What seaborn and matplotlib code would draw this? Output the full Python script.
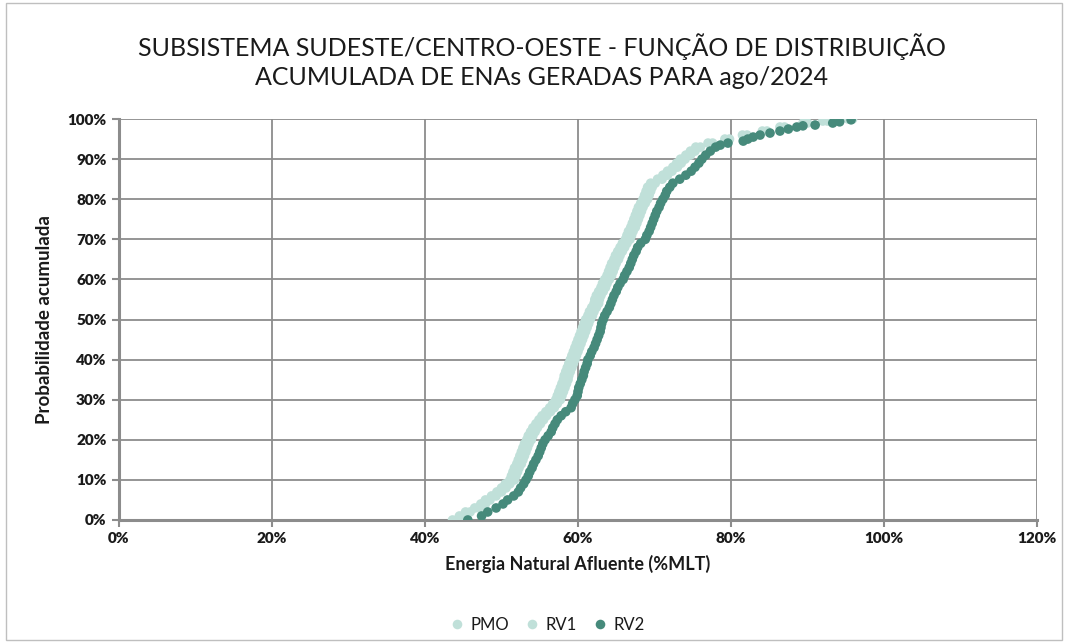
import matplotlib
matplotlib.use("Agg")
import matplotlib.pyplot as plt
import seaborn as sns
import pandas as pd
from matplotlib.ticker import FuncFormatter
from matplotlib.patches import Rectangle

# ---------------- data ----------------
series_names = ["PMO", "RV1", "RV2"]

prob_light = [0, 1, 2, 3, 4, 5, 6, 7, 8, 9, 10, 11, 12, 13, 14, 15, 16, 17, 18, 19,
              20, 21, 22, 23, 24, 25, 26, 27, 28, 29, 30, 31, 32, 33, 34, 35, 36, 37, 38, 39,
              40, 41, 42, 43, 44, 45, 46, 47, 48, 49, 50, 51, 52, 53, 54, 55, 56, 57, 58, 59,
              60, 61, 62, 63, 64, 65, 66, 67, 68, 69, 70, 71, 72, 73, 74, 75, 76, 77, 78, 79,
              80, 81, 82, 83, 84, 85, 86, 87, 88, 89, 90, 91, 92, 93, 94, 95, 96, 97, 98, 99,
              99.5, 100]

ena_pmo = [43.6, 44.5, 45.3, 46.5, 47.3, 47.9, 48.7, 49.4, 50.0, 50.5, 51.1, 51.3, 51.5, 51.7, 52.0, 52.2, 52.4, 52.6, 52.8, 53.0,
           53.3, 53.5, 53.8, 54.1, 54.5, 54.9, 55.3, 55.8, 56.3, 56.7, 57.1, 57.3, 57.5, 57.7, 57.9, 58.1, 58.2, 58.4, 58.6, 58.8,
           59.0, 59.2, 59.4, 59.6, 59.8, 60.0, 60.2, 60.4, 60.6, 60.8, 61.0, 61.3, 61.5, 61.8, 62.1, 62.2, 62.4, 62.7, 63.0, 63.2,
           63.5, 63.8, 64.0, 64.2, 64.4, 64.7, 64.9, 65.2, 65.5, 65.8, 66.2, 66.4, 66.6, 66.9, 67.1, 67.3, 67.5, 67.7, 67.9, 68.2,
           68.5, 68.7, 68.9, 69.1, 69.5, 70.4, 71.1, 71.7, 72.4, 72.9, 73.4, 74.1, 74.7, 75.4, 77.0, 79.2, 81.5, 84.1, 86.4, 89.4,
           92.0, 95.3]

ena_rv1 = [44.2, 45.1, 45.9, 47.1, 47.9, 48.5, 49.3, 50.0, 50.6, 51.1, 51.7, 51.9, 52.1, 52.3, 52.6, 52.8, 53.0, 53.2, 53.4, 53.6,
           53.9, 54.1, 54.4, 54.7, 55.1, 55.5, 55.9, 56.4, 56.9, 57.3, 57.7, 57.9, 58.1, 58.3, 58.5, 58.7, 58.8, 59.0, 59.2, 59.4,
           59.6, 59.8, 60.0, 60.2, 60.4, 60.6, 60.8, 61.0, 61.2, 61.4, 61.6, 61.9, 62.1, 62.4, 62.7, 62.8, 63.0, 63.3, 63.6, 63.8,
           64.1, 64.4, 64.6, 64.8, 65.0, 65.3, 65.5, 65.8, 66.1, 66.4, 66.8, 67.0, 67.2, 67.5, 67.7, 67.9, 68.1, 68.3, 68.5, 68.8,
           69.1, 69.3, 69.5, 69.7, 70.1, 71.0, 71.7, 72.3, 73.0, 73.5, 74.0, 74.7, 75.3, 76.0, 77.6, 79.8, 82.1, 84.7, 87.0, 90.0,
           92.6, 95.9]

prob_rv2 = [0, 1, 2, 3, 4, 5, 6, 7, 8, 9, 10, 11, 12, 13, 14, 15, 16, 17, 18, 19,
            20, 21, 22, 23, 24, 25, 26, 27, 28, 29, 30, 31, 32, 33, 34, 35, 36, 37, 38, 39,
            40, 41, 42, 43, 44, 45, 46, 47, 48, 49, 50, 51, 52, 53, 54, 55, 56, 57, 58, 59,
            60, 61, 62, 63, 64, 65, 66, 67, 68, 69, 70, 71, 72, 73, 74, 75, 76, 77, 78, 79,
            80, 81, 82, 83, 84, 85, 86, 87, 88, 89, 90, 91, 92, 93,
            93.5, 94, 94.5, 95, 95.5, 96, 96.5, 97, 97.5, 98, 98.3, 98.5, 99, 99.3, 99.8]

ena_rv2 = [45.6, 47.4, 48.2, 49.3, 50.2, 50.8, 51.6, 52.2, 52.5, 52.9, 53.2, 53.5, 53.7, 54.0, 54.2, 54.5, 54.8, 55.0, 55.2, 55.4,
           55.7, 56.1, 56.5, 56.7, 57.0, 57.3, 57.8, 58.4, 59.1, 59.3, 59.6, 59.9, 60.0, 60.1, 60.3, 60.5, 60.7, 60.8, 61.0, 61.2,
           61.3, 61.6, 61.8, 62.1, 62.3, 62.5, 62.7, 62.9, 63.0, 63.1, 63.3, 63.5, 63.8, 64.1, 64.3, 64.5, 64.7, 65.0, 65.2, 65.5,
           65.9, 66.1, 66.4, 66.7, 66.9, 67.1, 67.3, 67.6, 67.8, 68.2, 68.8, 69.0, 69.3, 69.5, 69.7, 69.9, 70.1, 70.3, 70.6, 70.8,
           71.1, 71.4, 71.6, 72.0, 72.4, 73.3, 74.1, 74.8, 75.3, 75.8, 76.2, 76.7, 77.3, 78.0,
           78.6, 79.6, 81.6, 82.2, 82.9, 83.8, 85.1, 86.4, 87.5, 88.6, 89.4, 91.0, 93.3, 94.2, 95.7]

x_ticks = [0, 20, 40, 60, 80, 100, 120]
y_ticks = [0, 10, 20, 30, 40, 50, 60, 70, 80, 90, 100]

title = "SUBSISTEMA SUDESTE/CENTRO-OESTE - FUNÇÃO DE DISTRIBUIÇÃO\nACUMULADA DE ENAs GERADAS PARA ago/2024"
x_label = "Energia Natural Afluente (%MLT)"
y_label = "Probabilidade acumulada"

colors = {"PMO": "#c0e0d9", "RV1": "#c0e0d9", "RV2": "#468a7b"}

# ---------------- build table ----------------
frames = [
    pd.DataFrame({"ena": ena_pmo, "prob": prob_light, "serie": "PMO"}),
    pd.DataFrame({"ena": ena_rv1, "prob": prob_light, "serie": "RV1"}),
    pd.DataFrame({"ena": ena_rv2, "prob": prob_rv2, "serie": "RV2"}),
]
df = pd.concat(frames, ignore_index=True)

# ---------------- plot ----------------
sns.set_theme(style="white")
plt.rcParams["font.family"] = ["Lato", "DejaVu Sans"]

fig = plt.figure(figsize=(10.66, 6.43), dpi=100)
ax = fig.add_axes([0.1116, 0.1913, 0.8612, 0.6236])

sns.scatterplot(data=df, x="ena", y="prob", hue="serie", hue_order=series_names,
                palette=colors, s=48, linewidth=0, alpha=1.0, ax=ax, legend=True, zorder=3)

ax.set_xlim(0, 120)
ax.set_ylim(0, 100)
ax.set_xticks(x_ticks)
ax.set_yticks(y_ticks)
ax.xaxis.set_major_formatter(FuncFormatter(lambda v, p: f"{v:.0f}%"))
ax.yaxis.set_major_formatter(FuncFormatter(lambda v, p: f"{v:.0f}%"))

grid_c = "#8c8c8c"
ax.grid(True, color=grid_c, linewidth=1.3, zorder=0)
ax.set_axisbelow(True)
for side in ["top", "right"]:
    ax.spines[side].set_visible(False)
for side in ["left", "bottom"]:
    ax.spines[side].set_color(grid_c)
    ax.spines[side].set_linewidth(2.2)
ax.tick_params(axis="both", which="major", length=5, width=1.5, color=grid_c,
               direction="out", labelsize=11, pad=4, bottom=True, left=True)
for lab in ax.get_xticklabels() + ax.get_yticklabels():
    lab.set_fontweight("heavy")
    lab.set_color("#1a1a1a")

ax.set_xlabel(x_label, fontsize=13, fontweight="bold", color="#1a1a1a", labelpad=7)
ax.set_ylabel(y_label, fontsize=13.5, fontweight="bold", color="#1a1a1a", labelpad=10)

fig.text(0.508, 0.905, title, ha="center", va="center", fontsize=18, color="#1a1a1a",
         linespacing=1.3)

handles, labels = ax.get_legend_handles_labels()
ax.get_legend().remove()
fig.legend(handles=handles, labels=labels, loc="center", bbox_to_anchor=(0.513, 0.028),
           ncol=3, frameon=False, fontsize=12, handlelength=1.0, handletextpad=0.3,
           columnspacing=0.9, labelcolor="#1a1a1a")

fig.add_artist(Rectangle((0.006, 0.004), 0.99, 0.992, transform=fig.transFigure,
                         fill=False, edgecolor="#bfbfbf", linewidth=1))

fig.savefig("out.png", dpi=100)
